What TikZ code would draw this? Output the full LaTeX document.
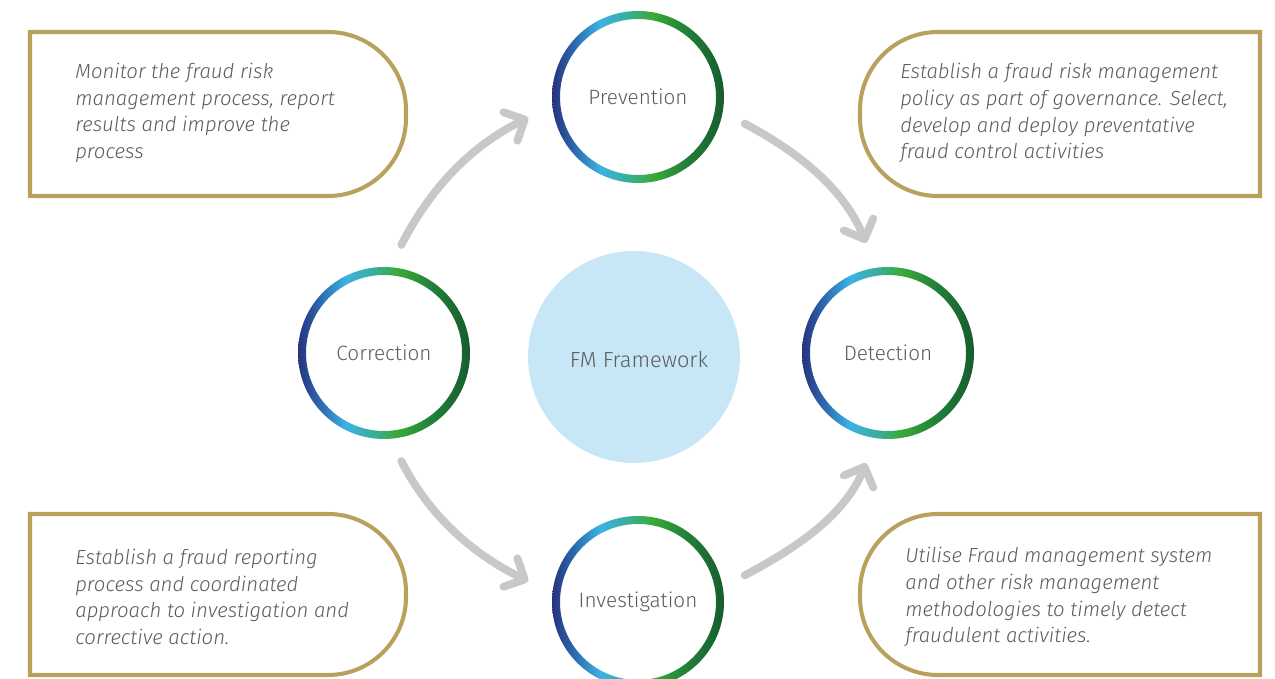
\documentclass[tikz,border=0pt]{standalone}
\usepackage{fontspec}
\setmainfont{Fira Sans Light}
\usetikzlibrary{arrows.meta}

\definecolor{ringnavy}{HTML}{28327F}
\definecolor{ringmid}{HTML}{2C6FB2}
\definecolor{ringblue}{HTML}{3DB2E3}
\definecolor{ringteal}{HTML}{39AE9A}
\definecolor{ringgreen}{HTML}{3AAA36}
\definecolor{ringforest}{HTML}{21803A}
\definecolor{ringdark}{HTML}{175C2D}
\definecolor{gold}{HTML}{B9A05C}
\definecolor{arrowgray}{HTML}{C8C8C8}
\definecolor{fmblue}{HTML}{C7E7F6}
\definecolor{labelgray}{HTML}{5C5C5C}

\pgfdeclarehorizontalshading{ringshade}{100bp}{color(0bp)=(ringnavy); color(25bp)=(ringnavy);
  color(32bp)=(ringmid); color(39bp)=(ringblue); color(47bp)=(ringteal); color(54bp)=(ringgreen);
  color(64bp)=(ringforest); color(75bp)=(ringdark); color(100bp)=(ringdark)}

\tikzstyle{stage}=[circle, minimum size=3.44cm, inner sep=0pt, outer sep=0pt, text=labelgray, font=\fontsize{11.8}{14}\selectfont]
\tikzstyle{blurb}=[anchor=west, align=left, inner sep=0pt, text=labelgray, font=\fontsize{11.6}{15.3}\selectfont\itshape]
\tikzstyle{outline}=[draw=gold, line width=2.3pt]
\tikzstyle{flowarrow}=[draw=arrowgray, line width=4.5pt, line cap=round, -{Straight Barb[length=9pt, width=18pt, round]}, shorten <=0.5cm, shorten >=0.54cm]

\begin{document}
\begin{tikzpicture}[x=0.02cm, y=0.02cm]
    \useasboundingbox (0,0) rectangle (1275,679);
    \clip (0,0) rectangle (1275,679);

    \node[circle, fill=fmblue, minimum size=4.24cm](fm) at (634,322) {};
    \node[text=labelgray, font=\fontsize{12.4}{14}\selectfont](fmlabel) at (639,319) {FM Framework};

    \node[stage](prev) at (638,582) {Prevention};
    \node[stage](corr) at (384,326) {Correction};
    \node[stage](detc) at (888,326) {Detection};
    \node[stage](inve) at (638,77) {Investigation};

    \foreach \n in {prev,corr,detc,inve}
        \shade[shading=ringshade, even odd rule] (\n) circle[radius=86] (\n) circle[radius=78];

    \draw[outline] (30,483) -- (30,647) -- (328,647) arc[start angle=90, end angle=0, radius=78]
        -- (406,561) arc[start angle=0, end angle=-90, radius=78] -- cycle;
    \draw[outline] (1260,483) -- (1260,647) -- (938,647) arc[start angle=90, end angle=180, radius=78]
        -- (860,561) arc[start angle=180, end angle=270, radius=78] -- cycle;
    \draw[outline] (30,4) -- (30,165) -- (328,165) arc[start angle=90, end angle=0, radius=78]
        -- (406,82) arc[start angle=0, end angle=-90, radius=78] -- cycle;
    \draw[outline] (1260,4) -- (1260,165) -- (938,165) arc[start angle=90, end angle=180, radius=78]
        -- (860,82) arc[start angle=180, end angle=270, radius=78] -- cycle;

    \node[blurb](monitor) at (75,566) {Monitor the fraud risk\\management process, report\\results and improve the\\process};
    \node[blurb](policy) at (900,566) {Establish a fraud risk management\\policy as part of governance. Select,\\develop and deploy preventative\\fraud control activities};
    \node[blurb](report) at (75,82) {Establish a fraud reporting\\process and coordinated\\approach to investigation and\\corrective action.};
    \node[blurb](system) at (905,82) {Utilise Fraud management system\\and other risk management\\methodologies to timely detect\\fraudulent activities.};

    \begin{scope}[every path/.style={flowarrow}]
        \draw (corr.86) to[out=63, in=206] (prev.186);
        \draw (prev.-10) to[out=-28, in=112] (detc.98);
        \draw (inve.10) to[out=28, in=-112] (detc.262);
        \draw (corr.-86) to[out=-63, in=154] (inve.174);
    \end{scope}
\end{tikzpicture}
\end{document}
